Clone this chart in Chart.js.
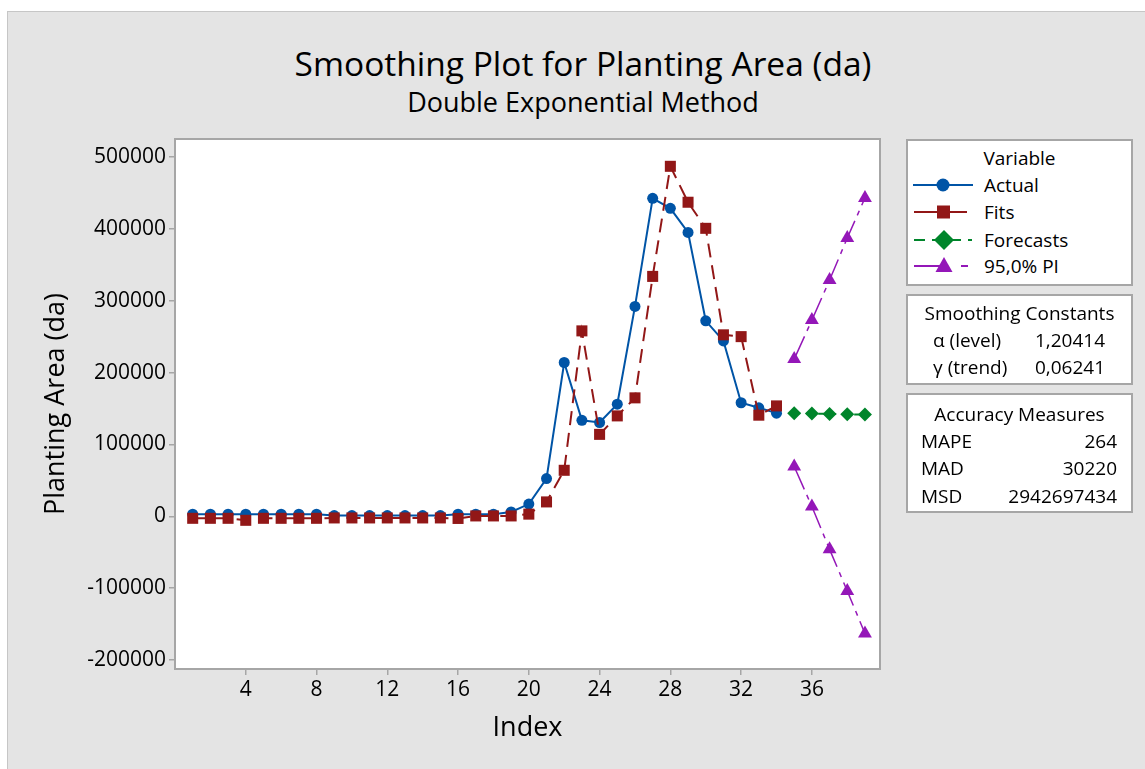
<!DOCTYPE html>
<html lang="en">
<head>
<meta charset="UTF-8">
<title>Smoothing Plot for Planting Area (da)</title>
<script src="https://cdn.jsdelivr.net/npm/chart.js"></script>
<style>
    body { margin: 0; background: #fff; font-family: "Open Sans", sans-serif; color: #000; }
    .frame {
        position: absolute; left: 7px; top: 11px; width: 1138px; height: 758px;
        background: #e4e4e4; border-left: 1px solid #c6c6c6; border-top: 1px solid #c6c6c6;
        box-sizing: border-box;
    }
    #chart { position: absolute; left: 0; top: 0; }
    .title { position: absolute; left: 233px; width: 700px; text-align: center; white-space: nowrap; }
    .box {
        position: absolute; left: 906px; width: 227px; background: #fff;
        border: 2px solid #a6a6a6; box-sizing: border-box;
    }
    .t { position: absolute; font-size: 19px; line-height: 24px; white-space: nowrap; }
    .c { left: 0; width: 223px; text-align: center; }
    svg { position: absolute; left: 0; top: 0; }
</style>
</head>
<body>

<div class="frame"></div>
<div class="title" style="top:40px; font-size:33.5px; line-height:46px;">Smoothing Plot for Planting Area (da)</div>
<div class="title" style="top:84px; font-size:27px; line-height:36px;">Double Exponential Method</div>

<canvas id="chart" width="1145" height="769"></canvas>

<div class="box" style="top:139px; height:147px;">
    <svg width="223" height="143">
        <line x1="5" y1="44" x2="65" y2="44" stroke="#0054a6" stroke-width="2"/>
        <circle cx="35" cy="44" r="6.5" fill="#0054a6"/>
        <line x1="6" y1="71" x2="29" y2="71" stroke="#921717" stroke-width="2"/>
        <line x1="42" y1="71" x2="59" y2="71" stroke="#921717" stroke-width="2"/>
        <rect x="29" y="64.5" width="13" height="13" fill="#921717"/>
        <line x1="6" y1="99" x2="64" y2="99" stroke="#00852b" stroke-width="2" stroke-dasharray="11,7"/>
        <polygon points="36,89 46,99 36,109 26,99" fill="#00852b"/>
        <line x1="6" y1="125" x2="36" y2="125" stroke="#9417b8" stroke-width="2"/>
        <line x1="53" y1="125" x2="60" y2="125" stroke="#9417b8" stroke-width="2"/>
        <polygon points="36,116 44.5,131 27.5,131" fill="#9417b8"/>
    </svg>
    <div class="t c" style="top:5px;">Variable</div>
    <div class="t" style="top:32px; left:76px;">Actual</div>
    <div class="t" style="top:59px; left:76px;">Fits</div>
    <div class="t" style="top:87px; left:76px;">Forecasts</div>
    <div class="t" style="top:113px; left:76px;">95,0% PI</div>
</div>

<div class="box" style="top:294px; height:91px;">
    <div class="t c" style="top:5px;">Smoothing Constants</div>
    <div class="t" style="top:32px; left:25px;">α (level)</div>
    <div class="t" style="top:32px; right:26px;">1,20414</div>
    <div class="t" style="top:59px; left:25px;">γ (trend)</div>
    <div class="t" style="top:59px; right:26px;">0,06241</div>
</div>

<div class="box" style="top:393px; height:120px;">
    <div class="t c" style="top:7px;">Accuracy Measures</div>
    <div class="t" style="top:34px; left:13px;">MAPE</div>
    <div class="t" style="top:34px; right:14px;">264</div>
    <div class="t" style="top:61px; left:13px;">MAD</div>
    <div class="t" style="top:61px; right:14px;">30220</div>
    <div class="t" style="top:89px; left:13px;">MSD</div>
    <div class="t" style="top:89px; right:14px;">2942697434</div>
</div>

<script>
// values
const fitIndex = [1, 2, 3, 4, 5, 6, 7, 8, 9, 10, 11, 12, 13, 14, 15, 16, 17,
    18, 19, 20, 21, 22, 23, 24, 25, 26, 27, 28, 29, 30, 31, 32, 33, 34];
const actual = [3000, 3000, 3000, 3000, 3000, 3000, 3000, 3000, 1000, 1000,
    1000, 1000, 1000, 1000, 1000, 3000, 3000, 3000, 6000, 17000, 52500,
    214000, 133500, 130500, 156000, 292000, 442500, 428500, 395000, 272000,
    244000, 158000, 151000, 143500];
const fits = [-2800, -2800, -2800, -5600, -2800, -2800, -2800, -2800, -2300,
    -2300, -2300, -2300, -2300, -2300, -2300, -3000, 500, 500, 500, 3000,
    20000, 64000, 258000, 114000, 139700, 164800, 333800, 487000, 437000,
    400700, 252500, 250000, 140700, 153600];

const forecastIndex = [35, 36, 37, 38, 39];
const forecasts = [143500, 143000, 142500, 142000, 141500];
const upperPI = [218700, 273000, 328700, 387200, 443000];
const lowerPI = [69200, 13500, -46000, -104000, -163000];

const xTicks = [4, 8, 12, 16, 20, 24, 28, 32, 36];
const yTicks = [-200000, -100000, 0, 100000, 200000, 300000, 400000, 500000];

function points(xs, ys) {
    return xs.map((x, i) => ({ x: x, y: ys[i] }));
}

const plotFrame = {
    id: 'plotFrame',
    beforeDraw(chart) {
        const a = chart.chartArea, ctx = chart.ctx;
        ctx.save();
        ctx.fillStyle = '#fff';
        ctx.fillRect(a.left, a.top, a.right - a.left, a.bottom - a.top);
        ctx.restore();
    },
    afterDraw(chart) {
        const a = chart.chartArea, ctx = chart.ctx;
        ctx.save();
        ctx.strokeStyle = '#a6a6a6';
        ctx.lineWidth = 2;
        ctx.strokeRect(a.left, a.top, a.right - a.left, a.bottom - a.top);
        ctx.restore();
    }
};

const tickFont = { family: '"Open Sans", sans-serif', size: 21 };
const titleFont = { family: '"Open Sans", sans-serif', size: 27 };

new Chart(document.getElementById('chart'), {
    type: 'line',
    data: {
        datasets: [
            {
                label: 'Fits',
                data: points(fitIndex, fits),
                borderColor: '#921717', backgroundColor: '#921717',
                borderWidth: 2, borderDash: [14, 8],
                pointStyle: 'rect', pointRadius: 7.8, pointBorderWidth: 0
            },
            {
                label: 'Actual',
                data: points(fitIndex, actual),
                borderColor: '#0054a6', backgroundColor: '#0054a6',
                borderWidth: 2,
                pointStyle: 'circle', pointRadius: 5.5, pointBorderWidth: 0
            },
            {
                label: 'Forecasts',
                data: points(forecastIndex, forecasts),
                borderColor: '#00852b', backgroundColor: '#00852b',
                borderWidth: 2, borderDash: [6, 6],
                pointStyle: 'rectRot', pointRadius: 7, pointBorderWidth: 0
            },
            {
                label: '95,0% PI',
                data: points(forecastIndex, upperPI),
                borderColor: '#9417b8', backgroundColor: '#9417b8',
                borderWidth: 1.5, borderDash: [25, 6, 5, 6],
                pointStyle: 'triangle', pointRadius: 8, pointBorderWidth: 0
            },
            {
                label: '95,0% PI lower',
                data: points(forecastIndex, lowerPI),
                borderColor: '#9417b8', backgroundColor: '#9417b8',
                borderWidth: 1.5, borderDash: [25, 6, 5, 6],
                pointStyle: 'triangle', pointRadius: 8, pointBorderWidth: 0
            }
        ]
    },
    options: {
        responsive: false,
        animation: false,
        layout: { padding: { top: 139, right: 265, bottom: 0, left: 0 } },
        plugins: {
            legend: { display: false },
            tooltip: { enabled: false }
        },
        scales: {
            x: {
                type: 'linear', min: 0, max: 39.85, bounds: 'data',
                afterBuildTicks: s => { s.ticks = xTicks.map(v => ({ value: v })); },
                afterFit: s => { s.height = 100; },
                grid: { drawOnChartArea: false, tickLength: 6, color: '#a6a6a6', lineWidth: 1.5 },
                border: { display: false },
                ticks: { font: tickFont, color: '#000', padding: 2, maxRotation: 0, autoSkip: false,
                    callback: v => String(v) },
                title: { display: true, text: 'Index', font: titleFont, color: '#000',
                    padding: { top: 0, bottom: 24 } }
            },
            y: {
                type: 'linear', min: -212500, max: 525000, bounds: 'data',
                afterBuildTicks: s => { s.ticks = yTicks.map(v => ({ value: v })); },
                afterFit: s => { s.width = 175; },
                grid: { drawOnChartArea: false, tickLength: 6, color: '#a6a6a6', lineWidth: 1.5 },
                border: { display: false },
                ticks: { font: tickFont, color: '#000', padding: 3, autoSkip: false,
                    callback: v => String(v) },
                title: { display: true, text: 'Planting Area (da)', font: titleFont, color: '#000',
                    padding: { top: 40, bottom: 0 } }
            }
        }
    },
    plugins: [plotFrame]
});
</script>

</body>
</html>
